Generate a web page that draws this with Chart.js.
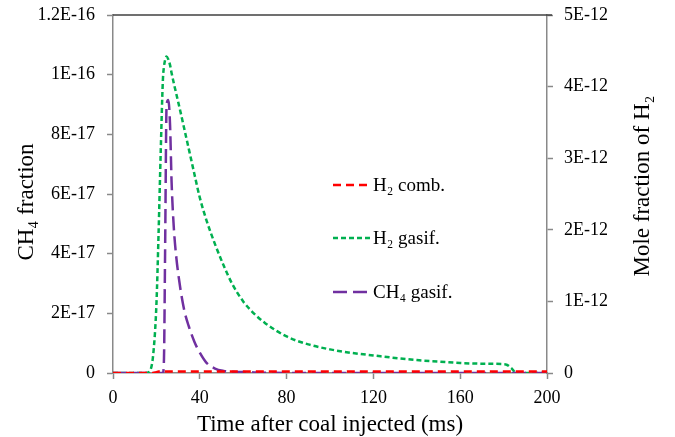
<!DOCTYPE html>
<html>
<head>
<meta charset="utf-8">
<script src="https://cdn.jsdelivr.net/npm/chart.js@4/dist/chart.umd.min.js"></script>
<style>
html, body { margin: 0; padding: 0; background: #fff; }
#wrap { width: 675px; height: 437px; }
</style>
</head>
<body>
<div id="wrap"><canvas id="myChart"></canvas></div>
<script>
// time after coal injected (ms)
var times = [0, 5, 10, 15, 17, 18.5, 20, 21, 22, 23, 23.5, 24, 24.7, 25.5, 26.3, 27, 28, 29, 31, 33, 35, 37.5, 40, 43, 47, 51, 55, 60, 65, 70, 80, 90, 100, 110, 120, 130, 140, 150, 160, 170, 181, 183.5, 186, 190, 200];

// mole fraction of H2, in units of 1E-12 (right axis)
var h2Comb = [0, 0, 0, 0, 0, 0, 0.01, 0.02, 0.02, 0.02, 0.02, 0.02, 0.02, 0.02, 0.02, 0.02, 0.02, 0.02, 0.02, 0.02, 0.02, 0.02, 0.02, 0.02, 0.02, 0.02, 0.02, 0.02, 0.02, 0.02, 0.02, 0.02, 0.02, 0.02, 0.02, 0.02, 0.02, 0.02, 0.02, 0.02, 0.02, 0.02, 0.02, 0.02, 0.02];
var h2Gasif = [0, 0, 0, 0, 0.03, 0.25, 0.95, 1.95, 3.1, 4.1, 4.28, 4.37, 4.42, 4.38, 4.3, 4.19, 4.05, 3.92, 3.66, 3.39, 3.12, 2.78, 2.45, 2.14, 1.8, 1.5, 1.24, 1.0, 0.83, 0.7, 0.51, 0.4, 0.33, 0.28, 0.245, 0.21, 0.18, 0.16, 0.14, 0.13, 0.12, 0.07, 0, 0, 0];

// CH4 fraction, in units of 1E-17 (left axis)
var ch4Gasif = [0, 0, 0, 0, 0, 0, 0, 0, 0, 0, 0.5, 4.0, 9.0, 9.15, 8.3, 6.4, 4.9, 4.0, 2.85, 2.05, 1.55, 1.05, 0.68, 0.35, 0.15, 0.07, 0.04, 0.03, 0.02, 0.01, 0, 0, 0, 0, 0, 0, 0, 0, 0, 0, 0, 0, 0, 0, 0];

var xTicks = [0, 40, 80, 120, 160, 200];
var leftTicks = [0, 2, 4, 6, 8, 10, 12];
var leftTickLabels = ['0', '2E-17', '4E-17', '6E-17', '8E-17', '1E-16', '1.2E-16'];
var rightTicks = [0, 1, 2, 3, 4, 5];
var rightTickLabels = ['0', '1E-12', '2E-12', '3E-12', '4E-12', '5E-12'];

var seriesNames = ['H\u2082 comb.', 'H\u2082 gasif.', 'CH\u2084 gasif.'];

function pts(vals) {
    return times.map(function (t, i) { return { x: t, y: vals[i] }; });
}

var serif = "'Liberation Serif', 'Times New Roman', serif";
var axisGray = '#898989';

// fixed box sizes so the plot area lands where the original has it
function fitY(w) {
    return function (s) { s.width = w; s.paddingTop = 0; s.paddingBottom = 0; };
}

// draws top frame line, axis titles and the legend inside the plot
var extras = {
    id: 'extras',
    afterDraw: function (chart) {
        var ctx = chart.ctx;
        var a = chart.chartArea;
        ctx.save();
        ctx.strokeStyle = '#404040';
        ctx.lineWidth = 1.5;
        ctx.beginPath();
        ctx.moveTo(a.left, a.top);
        ctx.lineTo(a.right + 5, a.top);
        ctx.stroke();

        ctx.fillStyle = '#000';
        ctx.font = '23px ' + serif;
        ctx.textAlign = 'center';
        ctx.textBaseline = 'middle';
        ctx.fillText('Time after coal injected (ms)', (a.left + a.right) / 2, 425);

        ctx.save();
        ctx.translate(27, 202);
        ctx.rotate(-Math.PI / 2);
        ctx.fillText('CH\u2084 fraction', 0, 0);
        ctx.restore();

        ctx.save();
        ctx.translate(643, 186);
        ctx.rotate(-Math.PI / 2);
        ctx.fillText('Mole fraction of H\u2082', 0, 0);
        ctx.restore();

        // legend
        var ys = [185, 238, 292];
        ctx.font = '19px ' + serif;
        ctx.textAlign = 'left';
        chart.data.datasets.forEach(function (ds, i) {
            ctx.strokeStyle = ds.borderColor;
            ctx.lineWidth = ds.borderWidth;
            ctx.setLineDash(ds.borderDash);
            ctx.beginPath();
            ctx.moveTo(333, ys[i]);
            ctx.lineTo(371, ys[i]);
            ctx.stroke();
            ctx.setLineDash([]);
            ctx.fillText(seriesNames[i], 373, ys[i] + 1);
        });
        ctx.restore();
    }
};

var ctx = document.getElementById('myChart');

var myChart = new Chart(ctx, {
    type: 'line',
    data: {
        datasets: [{
            label: seriesNames[0],
            data: pts(h2Comb),
            yAxisID: 'y2',
            borderColor: '#ff0000',
            borderWidth: 2.5,
            borderDash: [8, 5],
            pointRadius: 0,
            cubicInterpolationMode: 'monotone',
            order: 0
        }, {
            label: seriesNames[1],
            data: pts(h2Gasif),
            yAxisID: 'y2',
            borderColor: '#00b050',
            borderWidth: 2.5,
            borderDash: [5, 3],
            pointRadius: 0,
            cubicInterpolationMode: 'monotone',
            order: 2
        }, {
            label: seriesNames[2],
            data: pts(ch4Gasif),
            yAxisID: 'y',
            borderColor: '#7030a0',
            borderWidth: 2.5,
            borderDash: [14, 6],
            pointRadius: 0,
            cubicInterpolationMode: 'monotone',
            order: 1
        }]
    },
    options: {
        responsive: true,
        maintainAspectRatio: false,
        animation: false,
        layout: { padding: { top: 15, left: 0, right: 0, bottom: 0 } },
        plugins: {
            legend: { display: false },
            tooltip: { enabled: false }
        },
        scales: {
            x: {
                type: 'linear',
                min: 0,
                max: 200,
                afterBuildTicks: function (s) { s.ticks = xTicks.map(function (v) { return { value: v }; }); },
                afterFit: function (s) { s.height = 64; s.paddingLeft = 0; s.paddingRight = 0; },
                ticks: { color: '#000', font: { family: serif, size: 18 }, padding: 8, maxRotation: 0 },
                grid: { drawOnChartArea: false, tickLength: 6, color: axisGray, tickWidth: 1.5 },
                border: { color: axisGray, width: 1.5 }
            },
            y: {
                position: 'left',
                min: 0,
                max: 12,
                afterBuildTicks: function (s) { s.ticks = leftTicks.map(function (v) { return { value: v }; }); },
                afterFit: fitY(113),
                ticks: {
                    color: '#000', font: { family: serif, size: 18 }, padding: 12,
                    callback: function (v) { return leftTickLabels[leftTicks.indexOf(v)]; }
                },
                grid: { drawOnChartArea: false, tickLength: 6, color: axisGray, tickWidth: 1.5 },
                border: { color: axisGray, width: 1.5 }
            },
            y2: {
                position: 'right',
                min: 0,
                max: 5,
                afterBuildTicks: function (s) { s.ticks = rightTicks.map(function (v) { return { value: v }; }); },
                afterFit: fitY(128),
                ticks: {
                    color: '#000', font: { family: serif, size: 18 }, padding: 11,
                    callback: function (v) { return rightTickLabels[rightTicks.indexOf(v)]; }
                },
                grid: { drawOnChartArea: false, tickLength: 6, color: axisGray, tickWidth: 1.5 },
                border: { color: axisGray, width: 1.5 }
            }
        }
    },
    plugins: [extras]
});
</script>
</body>
</html>
